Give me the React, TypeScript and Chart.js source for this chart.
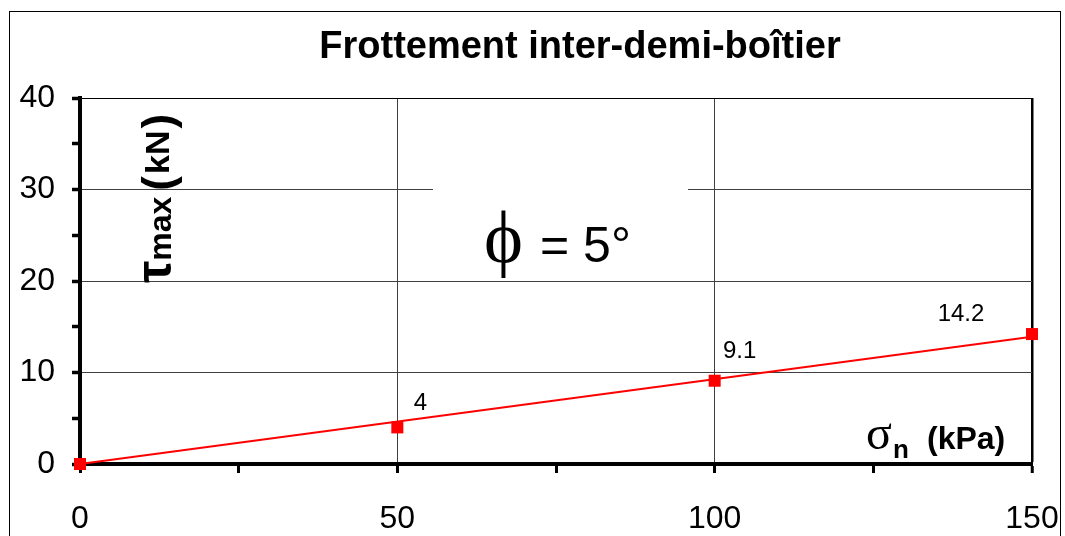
import React, { useEffect, useRef } from 'react';
import { Chart, registerables } from 'chart.js';

Chart.register(...registerables);

// ---- data ----
const normalStress = [0, 50, 100, 150]; // kPa
const shearMax = [0, 4, 9.1, 14.2]; // kN
const pointLabels = ['', '4', '9.1', '14.2'];
const trendX = [0, 150];
const trendY = [0, 13.9];
const xMajorTicks = [0, 50, 100, 150];
const yMajorTicks = [0, 10, 20, 30, 40];
const titleText = 'Frottement inter-demi-boîtier';
const angleText = '= 5°';

const SANS = '"Liberation Sans", Arial, Helvetica, sans-serif';
const SERIF = '"Liberation Serif", "Times New Roman", "DejaVu Serif", serif';

const labelOffsets: [number, number][] = [
  [0, 0],
  [23, -24],
  [25, -29],
  [-71, -20],
];

const overlay = {
  id: 'overlay',
  beforeDraw(chart: any) {
    const ctx = chart.ctx as CanvasRenderingContext2D;
    ctx.save();
    ctx.fillStyle = '#fff';
    ctx.fillRect(0, 0, chart.width, chart.height);
    ctx.strokeStyle = '#000';
    ctx.lineWidth = 1;
    ctx.strokeRect(9.5, 11.5, 1051, 600);
    ctx.restore();
  },
  afterDraw(chart: any) {
    const ctx = chart.ctx as CanvasRenderingContext2D;
    ctx.save();
    // title
    ctx.fillStyle = '#000';
    ctx.textAlign = 'center';
    ctx.textBaseline = 'alphabetic';
    ctx.font = `bold 38px ${SANS}`;
    ctx.fillText(titleText, 580, 58);

    // phi box
    ctx.fillStyle = '#fff';
    ctx.fillRect(433, 180, 255, 96);
    ctx.fillStyle = '#000';
    ctx.textAlign = 'left';
    ctx.font = `74px ${SERIF}`;
    ctx.fillText('ϕ', 484, 262);
    ctx.font = `50px ${SANS}`;
    ctx.fillText(angleText, 540, 262);

    // y axis title (rotated)
    ctx.save();
    ctx.translate(171, 283);
    ctx.rotate(-Math.PI / 2);
    ctx.textAlign = 'left';
    let x = 0;
    ctx.font = `bold 50px ${SANS}`;
    ctx.fillText('τ', x, 0);
    x += ctx.measureText('τ').width;
    ctx.font = `bold 32px ${SANS}`;
    ctx.fillText('max', x, 0);
    x += ctx.measureText('max').width + 6;
    ctx.font = `bold 44px ${SANS}`;
    ctx.fillText('(', x, 2);
    x += ctx.measureText('(').width + 2;
    ctx.font = `bold 34px ${SANS}`;
    ctx.fillText('kN', x, -2);
    x += ctx.measureText('kN').width + 2;
    ctx.font = `bold 44px ${SANS}`;
    ctx.fillText(')', x, 2);
    ctx.restore();

    // x axis title
    ctx.textAlign = 'left';
    ctx.font = `48px ${SERIF}`;
    ctx.fillText('σ', 866, 449);
    ctx.font = `bold 26px ${SANS}`;
    ctx.fillText('n', 893, 458);
    ctx.font = `bold 32px ${SANS}`;
    ctx.fillText('(kPa)', 927, 449);

    // data labels
    const meta = chart.getDatasetMeta(0);
    ctx.font = `24px ${SANS}`;
    ctx.textAlign = 'center';
    ctx.textBaseline = 'middle';
    meta.data.forEach((pt: any, i: number) => {
      const t = pointLabels[i];
      if (!t) return;
      ctx.fillText(t, pt.x + labelOffsets[i][0], pt.y + labelOffsets[i][1]);
    });
    ctx.restore();
  },
};

export default function App() {
  const ref = useRef<HTMLCanvasElement | null>(null);
  useEffect(() => {
    if (!ref.current) return;
    const chart = new Chart(ref.current, {
      type: 'scatter',
      data: {
        datasets: [
          {
            label: 'mesures',
            data: normalStress.map((x, i) => ({ x, y: shearMax[i] })),
            backgroundColor: '#ff0000',
            borderColor: '#ff0000',
            borderWidth: 0,
            pointStyle: 'rect',
            pointRadius: 8.5,
            showLine: false,
            clip: false as any,
          },
          {
            label: 'tendance',
            data: trendX.map((x, i) => ({ x, y: trendY[i] })),
            borderColor: '#ff0000',
            borderWidth: 2,
            pointRadius: 0,
            showLine: true,
            clip: false as any,
          },
        ],
      },
      options: {
        responsive: false,
        animation: false,
        layout: { padding: { left: 0, top: 98, right: 33, bottom: 0 } },
        plugins: {
          legend: { display: false },
          title: { display: false },
          tooltip: { enabled: false },
        },
        scales: {
          x: {
            type: 'linear',
            min: 0,
            max: 150,
            afterFit: (s: any) => {
              s.height = 72;
              s.paddingLeft = 0;
              s.paddingRight = 0;
            },
            border: { display: true, color: '#000', width: 4 },
            grid: {
              color: (c: any) =>
                c.tick && xMajorTicks.includes(c.tick.value) && c.tick.value !== 0
                  ? c.tick.value === 150
                    ? '#000'
                    : '#404040'
                  : 'rgba(0,0,0,0)',
              lineWidth: (c: any) => (c.tick && c.tick.value === 150 ? 2.5 : 1),
              tickColor: '#000',
              tickWidth: 3,
              tickLength: 9,
              drawTicks: true,
            },
            ticks: {
              stepSize: 25,
              autoSkip: false,
              maxRotation: 0,
              padding: 27,
              color: '#000',
              font: { family: SANS, size: 32 },
              callback: (v: any) => (xMajorTicks.includes(Number(v)) ? String(v) : ''),
            },
          },
          y: {
            type: 'linear',
            min: 0,
            max: 40,
            afterFit: (s: any) => {
              s.width = 80;
              s.paddingTop = 0;
              s.paddingBottom = 0;
            },
            border: { display: true, color: '#000', width: 4 },
            grid: {
              color: (c: any) =>
                c.tick && yMajorTicks.includes(c.tick.value) && c.tick.value !== 0
                  ? c.tick.value === 40
                    ? '#000'
                    : '#404040'
                  : 'rgba(0,0,0,0)',
              lineWidth: (c: any) => 1,
              tickColor: '#000',
              tickWidth: 3.5,
              tickLength: 8,
              drawTicks: true,
            },
            ticks: {
              stepSize: 5,
              autoSkip: false,
              padding: 17,
              color: '#000',
              font: { family: SANS, size: 32 },
              callback: (v: any) => (yMajorTicks.includes(Number(v)) ? String(v) : ''),
            },
          },
        },
      },
      plugins: [overlay],
    });
    return () => chart.destroy();
  }, []);
  return (
    <div style={{ position: 'fixed', left: 0, top: 0, width: 1065, height: 536 }}>
      <canvas ref={ref} width={1065} height={536} style={{ display: 'block' }} />
    </div>
  );
}
